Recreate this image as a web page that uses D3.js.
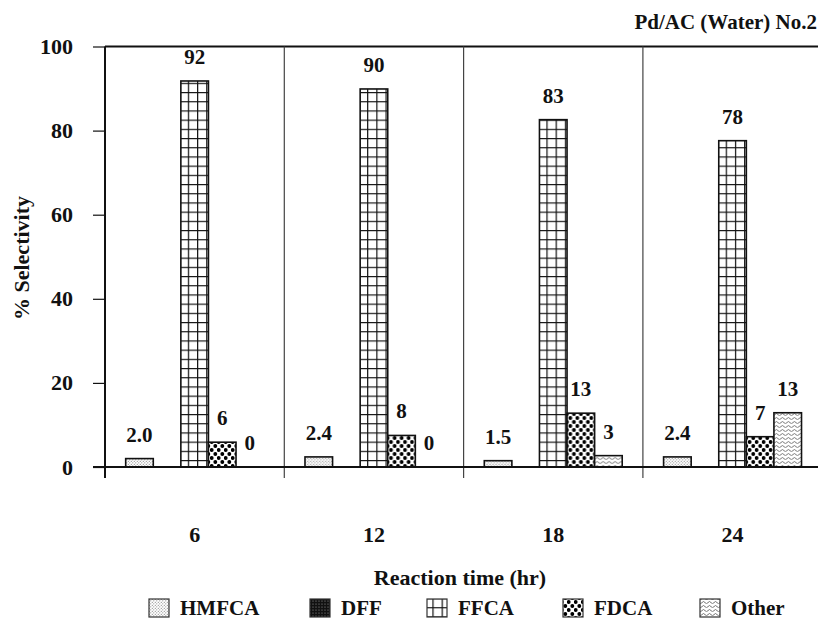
<!DOCTYPE html>
<html>
<head>
<meta charset="utf-8">
<script src="https://cdn.jsdelivr.net/npm/d3@7"></script>
<style>
  html, body { margin: 0; padding: 0; background: #fff; }
  svg { display: block; }
  text { font-family: "Liberation Serif", "Times New Roman", serif; font-weight: bold; fill: #111; }
</style>
</head>
<body>
<svg id="chart" width="818" height="621"></svg>
<script>
// ---- data ----
const categories = ["6", "12", "18", "24"];
const seriesNames = ["HMFCA", "DFF", "FFCA", "FDCA", "Other"];
const hmfca = [2.0, 2.4, 1.5, 2.4];
const dff = [0, 0, 0, 0];
const ffca = [91.8, 89.9, 82.6, 77.6];
const fdca = [5.9, 7.5, 12.8, 7.2];
const other = [0, 0, 2.7, 12.9];
const hmfcaLabels = ["2.0", "2.4", "1.5", "2.4"];
const dffLabels = [null, null, null, null];
const ffcaLabels = ["92", "90", "83", "78"];
const fdcaLabels = ["6", "8", "13", "7"];
const otherLabels = ["0", "0", "3", "13"];
const yTicks = [0, 20, 40, 60, 80, 100];
const title = "Pd/AC (Water) No.2";
const xTitle = "Reaction time (hr)";
const yTitle = "% Selectivity";

const seriesValues = [hmfca, dff, ffca, fdca, other];
const seriesLabels = [hmfcaLabels, dffLabels, ffcaLabels, fdcaLabels, otherLabels];

const svg = d3.select("#chart");
const defs = svg.append("defs");

// ---- patterns ----
function pat(id, w, h, bg) {
  const p = defs.append("pattern").attr("id", id).attr("patternUnits", "userSpaceOnUse")
    .attr("width", w).attr("height", h);
  p.append("rect").attr("width", w).attr("height", h).attr("fill", bg);
  return p;
}
// HMFCA: fine light stipple
{
  const p = pat("p-hmfca", 3, 3, "#fff");
  p.append("circle").attr("cx", 0.8).attr("cy", 0.8).attr("r", 0.6).attr("fill", "#888");
  p.append("circle").attr("cx", 2.3).attr("cy", 2.3).attr("r", 0.6).attr("fill", "#888");
}
// DFF: dark with light speckle
{
  const p = pat("p-dff", 3, 3, "#111");
  p.append("circle").attr("cx", 1).attr("cy", 1).attr("r", 0.6).attr("fill", "#999");
}
// FFCA: square grid
{
  const p = pat("p-ffca", 9.2, 9.2, "#fff");
  p.append("path").attr("d", "M0,0.5H9.2M0.5,0V9.2").attr("stroke", "#111").attr("stroke-width", 1.4).attr("fill", "none");
}
// FDCA: staggered black dots
{
  const p = pat("p-fdca", 7, 8, "#fff");
  [[1.75, 2], [5.25, 6], [8.75, 6], [-1.75, 6]].forEach(([cx, cy]) =>
    p.append("circle").attr("cx", cx).attr("cy", cy).attr("r", 1.9).attr("fill", "#000"));
}
// Other: wavy lines
{
  const p = pat("p-other", 6, 4, "#fff");
  p.append("path").attr("d", "M0,2.6 Q1.5,0.4 3,2.6 T6,2.6").attr("stroke", "#666").attr("stroke-width", 0.9).attr("fill", "none");
}
const fills = ["url(#p-hmfca)", "url(#p-dff)", "url(#p-ffca)", "url(#p-fdca)", "url(#p-other)"];

// ---- scales ----
const x0 = d3.scaleBand().domain(categories).range([105, 822.2]).paddingInner(0).paddingOuter(0);
const x1 = d3.scaleBand().domain(seriesNames).range([0, x0.bandwidth()]).paddingInner(0).paddingOuter(0.75);
const y = d3.scaleLinear().domain([0, 100]).range([467, 46.5]);

// ---- frame ----
const plot = svg.append("g");
plot.append("line").attr("x1", 105).attr("x2", 818).attr("y1", y(100)).attr("y2", y(100))
  .attr("stroke", "#111").attr("stroke-width", 2);
categories.slice(1).forEach(c => {
  plot.append("line").attr("x1", x0(c)).attr("x2", x0(c)).attr("y1", y(100)).attr("y2", y(0) + 11)
    .attr("stroke", "#444").attr("stroke-width", 1.2);
});

// ---- y axis ----
const yAxis = svg.append("g").attr("transform", "translate(105,0)")
  .call(d3.axisLeft(y).tickValues(yTicks).tickSize(12).tickPadding(20).tickFormat(d3.format("d")));
yAxis.select(".domain").remove();
yAxis.selectAll(".tick line").attr("stroke", "#111").attr("stroke-width", 1.2);
yAxis.selectAll(".tick text").attr("font-size", 22).attr("font-family", "Liberation Serif").attr("font-weight", "bold").attr("fill", "#111");
svg.append("line").attr("x1", 105).attr("x2", 105).attr("y1", y(100)).attr("y2", y(0) + 11)
  .attr("stroke", "#111").attr("stroke-width", 2);

// ---- bars ----
const groups = svg.selectAll("g.grp").data(categories).join("g").attr("class", "grp")
  .attr("transform", c => `translate(${x0(c)},0)`);
groups.each(function (c, ci) {
  const g = d3.select(this);
  seriesNames.forEach((s, si) => {
    const v = seriesValues[si][ci];
    if (v > 0) {
      g.append("rect").attr("x", x1(s)).attr("width", x1.bandwidth())
        .attr("y", y(v)).attr("height", y(0) - y(v))
        .attr("fill", fills[si]).attr("stroke", "#111").attr("stroke-width", 1.6);
    }
    const lab = seriesLabels[si][ci];
    if (lab !== null) {
      g.append("text").attr("x", x1(s) + x1.bandwidth() / 2).attr("y", y(v) - 17)
        .attr("text-anchor", "middle").attr("font-size", 21).text(lab);
    }
  });
});

svg.append("line").attr("x1", 93).attr("x2", 818).attr("y1", y(0)).attr("y2", y(0))
  .attr("stroke", "#111").attr("stroke-width", 2);

// ---- x axis labels ----
svg.append("g").selectAll("text").data(categories).join("text")
  .attr("x", c => x0(c) + x0.bandwidth() / 2).attr("y", 542)
  .attr("text-anchor", "middle").attr("font-size", 22).text(c => c);

svg.append("text").attr("x", 460).attr("y", 585).attr("text-anchor", "middle")
  .attr("font-size", 22).text(xTitle);
svg.append("text").attr("transform", "translate(29,258) rotate(-90)").attr("text-anchor", "middle")
  .attr("font-size", 22).text(yTitle);
svg.append("text").attr("x", 817).attr("y", 29).attr("text-anchor", "end")
  .attr("font-size", 21).text(title);

// ---- legend ----
const legendX = [149, 310, 427, 563, 700];
const legend = svg.append("g");
seriesNames.forEach((s, i) => {
  legend.append("rect").attr("x", legendX[i]).attr("y", 599).attr("width", 20).attr("height", 18)
    .attr("fill", fills[i]).attr("stroke", "#333").attr("stroke-width", 1.2);
  legend.append("text").attr("x", legendX[i] + 31).attr("y", 615).attr("font-size", 21).text(s);
});
</script>
</body>
</html>
